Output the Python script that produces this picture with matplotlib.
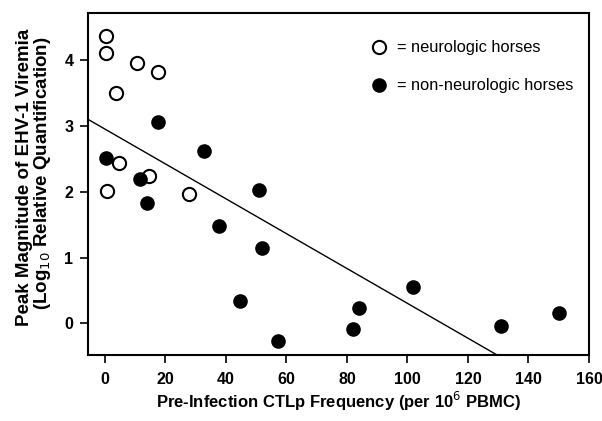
import matplotlib
matplotlib.use("Agg")
import matplotlib.pyplot as plt

plt.rcParams["font.family"] = ["Liberation Sans", "DejaVu Sans"]

# neurologic horses (open circles)
neuro_x = [0.4, 0.5, 10.5, 17.4, 3.5, 4.6, 14.7, 0.8, 27.8]
neuro_y = [4.37, 4.11, 3.96, 3.83, 3.51, 2.44, 2.24, 2.01, 1.965]

# non-neurologic horses (filled circles)
non_x = [17.5, 32.6, 0.5, 11.6, 50.8, 13.8, 37.8, 51.8, 44.8, 57.1, 82.0, 84.1, 101.8, 131.0, 150.0]
non_y = [3.06, 2.62, 2.52, 2.20, 2.03, 1.83, 1.48, 1.15, 0.34, -0.26, -0.09, 0.24, 0.55, -0.04, 0.16]

# regression line
fit_intercept = 2.955
fit_slope = -0.0265

x_ticks = [0, 20, 40, 60, 80, 100, 120, 140, 160]
y_ticks = [0, 1, 2, 3, 4]

fig = plt.figure(figsize=(6.02, 4.21), dpi=100)
ax = fig.add_axes([88 / 602, 1 - 355 / 421, (589 - 88) / 602, (355 - 13) / 421])

xlim = (-5.6, 160)
ylim = (-0.48, 4.72)
ax.plot(xlim, [fit_intercept + fit_slope * v for v in xlim], color="black", lw=1.0, zorder=1)

ax.plot(neuro_x, neuro_y, "o", ms=9.5, mfc="white", mec="black", mew=1.5, ls="none", zorder=3)
ax.plot(non_x, non_y, "o", ms=9.5, mfc="black", mec="black", ls="none", zorder=3)

ax.set_xlim(*xlim)
ax.set_ylim(*ylim)
ax.set_xticks(x_ticks)
ax.set_yticks(y_ticks)
ax.tick_params(direction="out", length=5.5, width=1.2, labelsize=11.5)
ax.tick_params(axis="x", pad=7)
ax.tick_params(axis="y", pad=5)
for lab in ax.get_xticklabels() + ax.get_yticklabels():
    lab.set_fontweight("bold")
for s in ax.spines.values():
    s.set_linewidth(1.5)

ax.set_xlabel("Pre-Infection CTLp Frequency (per 10$^6$ PBMC)", fontsize=12,
              fontweight="bold", labelpad=2)

# two-line y label, placed like the original
fig.text(25 / 602, 1 - 177 / 421, "Peak Magnitude of EHV-1 Viremia", rotation=90,
         ha="center", va="center", fontsize=13.5, fontweight="bold")
fig.text(43 / 602, 1 - 173 / 421, "(Log$_{10}$ Relative Quantification)", rotation=90,
         ha="center", va="center", fontsize=13.5, fontweight="bold")

# legend drawn as marks + text
ax.plot([0.581], [0.9], "o", transform=ax.transAxes, ms=9.5, mfc="white", mec="black", mew=1.5)
ax.plot([0.581], [0.789], "o", transform=ax.transAxes, ms=9.5, mfc="black", mec="black")
ax.text(0.617, 0.9, "= neurologic horses", transform=ax.transAxes, va="center", fontsize=11.8)
ax.text(0.617, 0.789, "= non-neurologic horses", transform=ax.transAxes, va="center", fontsize=11.8)

fig.savefig("out.png", dpi=100)
